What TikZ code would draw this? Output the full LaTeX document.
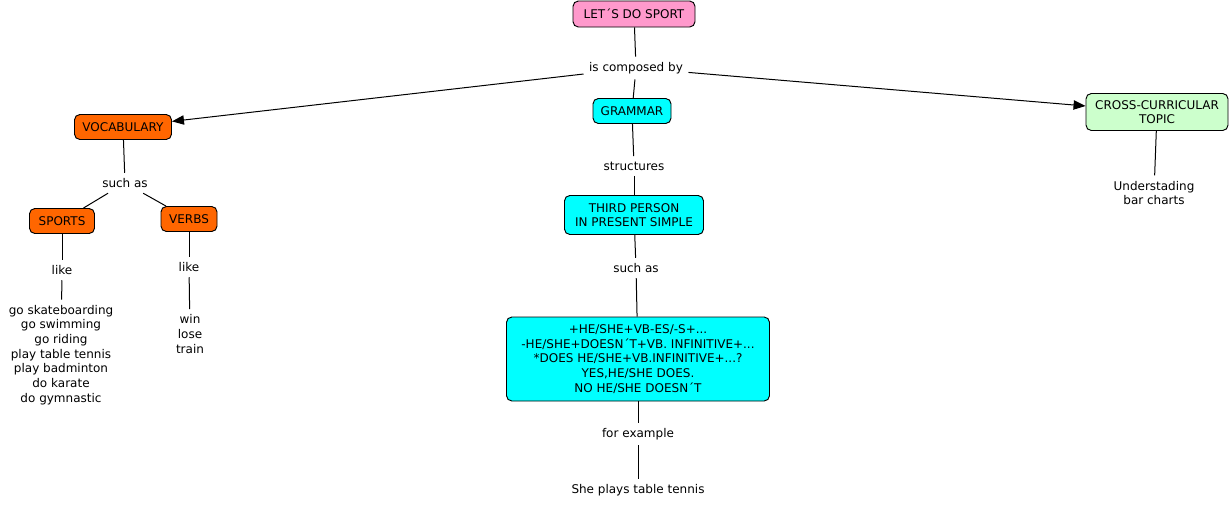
\documentclass[tikz,border=0pt]{standalone}
\usepackage{fontspec}
\setmainfont{DejaVu Sans}
\usetikzlibrary{arrows.meta,positioning}
\definecolor{toppink}{HTML}{FF99CC}
\definecolor{vocorange}{HTML}{FF6600}
\definecolor{gramcyan}{HTML}{00FFFF}
\definecolor{crossgreen}{HTML}{CCFFCC}
\begin{document}
\begin{tikzpicture}[x=0.75pt,y=-0.75pt,
concept/.style={
rectangle,
rounded corners=4pt,
draw,
line width=0.7pt,
align=center,
inner sep=0pt,
font=\fontsize{9}{11}\selectfont
},
phrase/.style={align=center,inner sep=4pt,font=\fontsize{9}{11}\selectfont},
to/.style={-{Triangle[length=9pt,width=7pt]},line width=0.75pt},
line/.style={line width=0.75pt},
]
\useasboundingbox (0,0) rectangle (1231,507);
% concepts
\node (sport) [concept,fill=toppink,minimum width=91.5pt,minimum height=19.5pt] at (634,14) {LET´S DO SPORT};
\node (composed) [phrase] at (636,68) {is composed by};
\node (grammar) [concept,fill=gramcyan,minimum width=58.5pt,minimum height=18.75pt] at (632,111) {GRAMMAR};
\node (vocab) [concept,fill=vocorange,minimum width=72.75pt,minimum height=18.75pt] at (123,127) {VOCABULARY};
\node (cross) [concept,fill=crossgreen,minimum width=106.5pt,minimum height=27.75pt] at (1157,112) {CROSS-CURRICULAR\\TOPIC};
% vocabulary branch
\node (vocsuch) [phrase] at (125,183) {such as};
\node (sports) [concept,fill=vocorange,minimum width=48.75pt,minimum height=18.75pt] at (62,221) {SPORTS};
\node (verbs) [concept,fill=vocorange,minimum width=42pt,minimum height=18.75pt] at (189,219) {VERBS};
\node (sportslike) [phrase] at (62,270) {like};
\node (verbslike) [phrase] at (189,267) {like};
\node (sportslist) [phrase] at (61,355) {go skateboarding\\go swimming\\go riding\\play table tennis\\play badminton\\do karate\\do gymnastic};
\node (verbslist) [phrase] at (190,334) {win\\lose\\train};
% grammar branch
\node (structures) [phrase] at (634,166) {structures};
\node (third) [concept,fill=gramcyan,minimum width=104.25pt,minimum height=29.25pt] at (634,215) {THIRD PERSON\\IN PRESENT SIMPLE};
\node (gramsuch) [phrase] at (636,268) {such as};
\node (forms) [concept,fill=gramcyan,minimum width=197.25pt,minimum height=63pt] at (638,359) {+HE/SHE+VB-ES/-S+...\\-HE/SHE+DOESN´T+VB. INFINITIVE+...\\*DOES HE/SHE+VB.INFINITIVE+...?\\YES,HE/SHE DOES.\\NO HE/SHE DOESN´T};
\node (forexample) [phrase] at (638,434) {for example};
\node (tennis) [phrase] at (638,490) {She plays table tennis};
% cross-curricular branch
\node (charts) [phrase] at (1154,193) {Understading\\bar charts};
% links
\draw[line] (sport) -- (composed);
\draw[to] (composed) -- (vocab);
\draw[line] (composed) -- (grammar);
\draw[to] (composed) -- (cross);
\draw[line] (vocab) -- (vocsuch);
\draw[line] (vocsuch) -- (sports);
\draw[line] (vocsuch) -- (verbs);
\draw[line] (sports) -- (sportslike);
\draw[line] (sportslike) -- (sportslist);
\draw[line] (verbs) -- (verbslike);
\draw[line] (verbslike) -- (verbslist);
\draw[line] (grammar) -- (structures);
\draw[line] (structures) -- (third);
\draw[line] (third) -- (gramsuch);
\draw[line] (gramsuch) -- (forms);
\draw[line] (forms) -- (forexample);
\draw[line] (forexample) -- (tennis);
\draw[line] (cross) -- (charts);
\end{tikzpicture}
\end{document}
